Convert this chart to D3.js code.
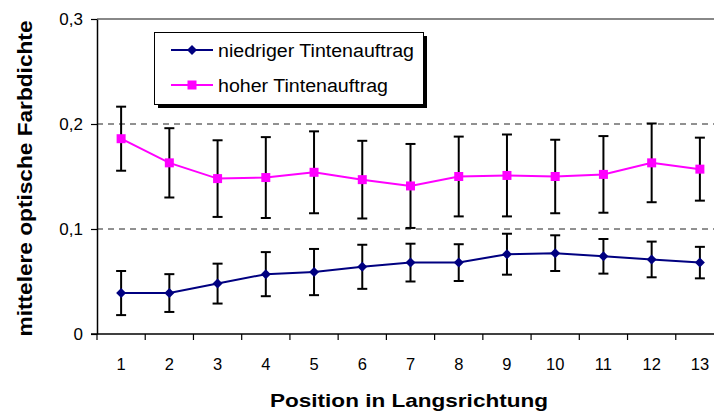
<!DOCTYPE html>
<html>
<head>
<meta charset="utf-8">
<script src="https://cdn.jsdelivr.net/npm/d3@7"></script>
<style>
  body { margin: 0; background: #fff; }
  svg { display: block; font-family: "Liberation Sans", Arial, sans-serif; }
</style>
</head>
<body>
<div id="vis"></div>
<script>
var positions = ["1", "2", "3", "4", "5", "6", "7", "8", "9", "10", "11", "12", "13"];

var niedrig = [0.039, 0.039, 0.048, 0.057, 0.059, 0.064, 0.068, 0.068, 0.076, 0.077, 0.074, 0.071, 0.068];
var niedrigErr = [0.021, 0.018, 0.019, 0.021, 0.022, 0.021, 0.018, 0.0175, 0.0195, 0.017, 0.0165, 0.017, 0.015];

var hoch = [0.186, 0.163, 0.148, 0.149, 0.154, 0.147, 0.141, 0.150, 0.151, 0.150, 0.152, 0.163, 0.157];
var hochErr = [0.0305, 0.033, 0.0365, 0.0385, 0.039, 0.037, 0.040, 0.038, 0.039, 0.035, 0.0365, 0.0375, 0.030];

var yTicks = [0, 0.1, 0.2, 0.3];
var yTickLabels = ["0", "0,1", "0,2", "0,3"];

var width = 714,
    height = 418;

var plotLeft = 97, plotRight = 724, plotTop = 19, plotBottom = 334;

var svg = d3.select("#vis").append("svg")
    .attr("width", width)
    .attr("height", height);

var x = d3.scaleBand()
    .domain(positions)
    .range([plotLeft, plotRight]);

var y = d3.scaleLinear()
    .domain([0, 0.3])
    .range([plotBottom, plotTop]);

// gridlines
svg.append("g")
    .selectAll("line")
    .data(yTicks.slice(1))
    .enter().append("line")
    .attr("x1", plotLeft)
    .attr("x2", width)
    .attr("y1", function(d) { return y(d); })
    .attr("y2", function(d) { return y(d); })
    .attr("stroke", function(d) { return d === 0.3 ? "#888" : "#222"; })
    .attr("stroke-width", function(d) { return d === 0.3 ? 2 : 1; })
    .attr("stroke-dasharray", function(d) { return d === 0.3 ? null : "6,5"; });

// y axis
var yAxis = svg.append("g")
    .attr("transform", "translate(" + plotLeft + ",0)")
    .call(d3.axisLeft(y)
        .tickValues(yTicks)
        .tickSize(6)
        .tickPadding(8)
        .tickSizeOuter(0)
        .tickFormat(function(d, i) { return yTickLabels[i]; }));

yAxis.select(".domain").attr("stroke", "#000").attr("stroke-width", 1.5);
yAxis.selectAll(".tick line").attr("stroke-width", 1.2);
yAxis.selectAll("text")
    .attr("font-size", 17)
    .attr("font-family", "Liberation Sans, Arial, sans-serif")
    .attr("fill", "#000");

// x axis
var xAxis = svg.append("g")
    .attr("transform", "translate(0," + plotBottom + ")")
    .call(d3.axisBottom(x).tickSize(0));

xAxis.select(".domain")
    .attr("stroke", "#000")
    .attr("stroke-width", 1.3)
    .attr("d", "M" + (plotLeft - 6) + ",0H" + width);
xAxis.selectAll("text")
    .attr("y", 36)
    .attr("dy", 0)
    .attr("font-size", 16.5)
    .attr("font-family", "Liberation Sans, Arial, sans-serif")
    .attr("fill", "#000");

xAxis.selectAll(".boundary")
    .data(positions)
    .enter().append("line")
    .attr("class", "boundary")
    .attr("x1", function(d) { return x(d); })
    .attr("x2", function(d) { return x(d); })
    .attr("y1", 0)
    .attr("y2", 6)
    .attr("stroke", "#000")
    .attr("stroke-width", 1.2);

var diamond = { draw: function(ctx, size) {
    var r = Math.sqrt(size) / 2;
    ctx.moveTo(0, -r); ctx.lineTo(r, 0); ctx.lineTo(0, r); ctx.lineTo(-r, 0); ctx.closePath();
} };

var series = [
    { name: "niedriger Tintenauftrag", values: niedrig, err: niedrigErr, color: "#000080", symbol: diamond, size: 100, len: 196 },
    { name: "hoher Tintenauftrag", values: hoch, err: hochErr, color: "#ff00ff", symbol: d3.symbolSquare, size: 81, len: 170 }
];

var cx = function(i) { return x(positions[i]) + x.bandwidth() / 2; };

series.forEach(function(s) {
    var g = svg.append("g");

    var errs = g.selectAll(".err")
        .data(s.values)
        .enter().append("g")
        .attr("class", "err")
        .attr("stroke", "#000")
        .attr("stroke-width", 2);

    errs.append("line")
        .attr("x1", function(d, i) { return cx(i); })
        .attr("x2", function(d, i) { return cx(i); })
        .attr("y1", function(d, i) { return y(d + s.err[i]); })
        .attr("y2", function(d, i) { return y(d - s.err[i]); });

    [1, -1].forEach(function(sign) {
        errs.append("line")
            .attr("x1", function(d, i) { return cx(i) - 5; })
            .attr("x2", function(d, i) { return cx(i) + 5; })
            .attr("y1", function(d, i) { return y(d + sign * s.err[i]); })
            .attr("y2", function(d, i) { return y(d + sign * s.err[i]); });
    });

    g.append("path")
        .datum(s.values)
        .attr("fill", "none")
        .attr("stroke", s.color)
        .attr("stroke-width", 2)
        .attr("d", d3.line()
            .x(function(d, i) { return cx(i); })
            .y(function(d) { return y(d); }));

    g.selectAll(".mark")
        .data(s.values)
        .enter().append("path")
        .attr("class", "mark")
        .attr("fill", s.color)
        .attr("transform", function(d, i) { return "translate(" + cx(i) + "," + y(d) + ")"; })
        .attr("d", d3.symbol().type(s.symbol).size(s.size));
});

// legend
var legend = svg.append("g");

legend.append("rect")
    .attr("x", 158)
    .attr("y", 36)
    .attr("width", 269)
    .attr("height", 72)
    .attr("fill", "#000");

legend.append("rect")
    .attr("x", 154.5)
    .attr("y", 32.5)
    .attr("width", 269)
    .attr("height", 72)
    .attr("fill", "#fff")
    .attr("stroke", "#000")
    .attr("stroke-width", 1);

var items = legend.selectAll(".item")
    .data(series)
    .enter().append("g")
    .attr("class", "item")
    .attr("transform", function(d, i) { return "translate(171," + (50 + i * 35) + ")"; });

items.append("line")
    .attr("x1", 0)
    .attr("x2", 42)
    .attr("stroke", function(d) { return d.color; })
    .attr("stroke-width", 2);

items.append("path")
    .attr("transform", "translate(21,0)")
    .attr("fill", function(d) { return d.color; })
    .attr("d", function(d) { return d3.symbol().type(d.symbol).size(d.size)(); });

items.append("text")
    .attr("x", 47)
    .attr("y", 6.5)
    .attr("font-size", 18)
    .attr("textLength", function(d) { return d.len; })
    .attr("lengthAdjust", "spacingAndGlyphs")
    .text(function(d) { return d.name; });

// axis titles
svg.append("text")
    .attr("transform", "translate(32,178.5)rotate(-90)")
    .attr("text-anchor", "middle")
    .attr("font-size", 20)
    .attr("font-weight", "bold")
    .attr("textLength", 316)
    .attr("lengthAdjust", "spacingAndGlyphs")
    .text("mittelere optische Farbdichte");

svg.append("text")
    .attr("x", 409)
    .attr("y", 407)
    .attr("text-anchor", "middle")
    .attr("font-size", 19)
    .attr("font-weight", "bold")
    .attr("textLength", 278)
    .attr("lengthAdjust", "spacingAndGlyphs")
    .text("Position in Langsrichtung");
</script>
</body>
</html>
